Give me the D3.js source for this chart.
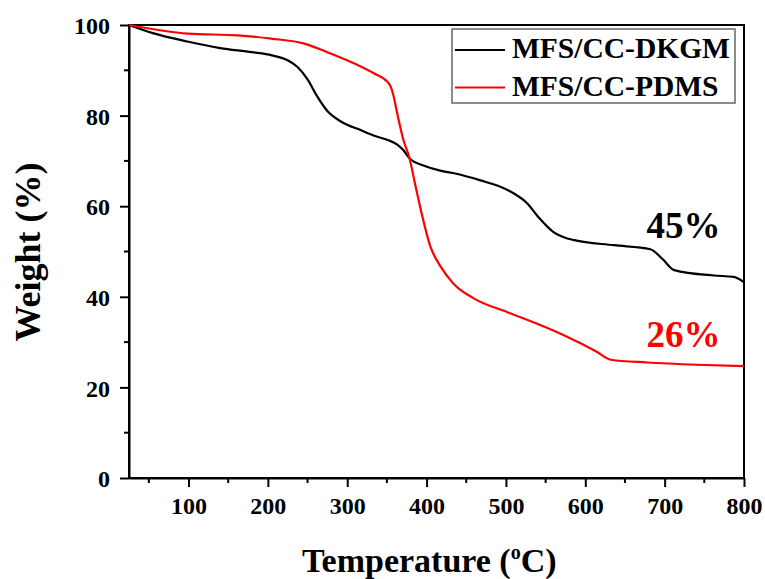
<!DOCTYPE html>
<html>
<head>
<meta charset="utf-8">
<script src="https://cdn.jsdelivr.net/npm/d3@7"></script>
<style>
  body { margin: 0; background: #fff; }
  text { font-family: "Liberation Serif", "Times New Roman", serif; font-weight: bold; }
</style>
</head>
<body>
<div id="chart"></div>
<script>
var width = 765,
    height = 579;

// TGA data
var dkgmTemp   = [25, 55, 100, 140, 180, 205, 225, 238, 250, 262, 275, 292, 317, 335, 351, 363, 370, 380, 396, 416, 439, 468, 490, 510, 527, 540, 560, 586, 636, 682, 697, 712, 762, 787, 800];
var dkgmWeight = [100, 98.2, 96.3, 94.9, 94.0, 93.3, 92.2, 90.6, 88.0, 84.3, 81.0, 78.7, 76.8, 75.5, 74.6, 73.6, 72.5, 70.3, 69.0, 67.9, 67.1, 65.7, 64.5, 62.8, 60.6, 57.8, 54.3, 52.5, 51.4, 50.5, 48.4, 45.9, 44.7, 44.4, 43.2];

var pdmsTemp   = [25, 99, 162, 204, 246, 275, 309, 334, 351, 355, 358, 363, 371, 378, 386, 393, 405, 418, 434, 460, 502, 544, 573, 615, 632, 678, 741, 800];
var pdmsWeight = [100, 98.1, 97.7, 97.0, 95.9, 94.0, 91.5, 89.3, 87.4, 86.3, 84.6, 80.5, 74.5, 70.9, 64.5, 59.0, 51.0, 46.6, 42.9, 39.6, 36.6, 33.7, 31.5, 27.8, 26.1, 25.5, 25.0, 24.7];

var seriesNames = ["MFS/CC-DKGM", "MFS/CC-PDMS"];
var seriesColors = ["#000000", "#ff0000"];
var residueLabels = ["45%", "26%"];
var residueAt = [53, 29];   // y position (weight %) of the residue labels

var xTicks = [100, 200, 300, 400, 500, 600, 700, 800];
var yTicks = [0, 20, 40, 60, 80, 100];

var margin = {top: 25, right: 21, bottom: 101, left: 129};
var w = width - margin.left - margin.right,
    h = height - margin.top - margin.bottom;

var svg = d3.select("#chart").append("svg")
    .attr("width", width)
    .attr("height", height);

var g = svg.append("g")
    .attr("transform", "translate(" + margin.left + "," + margin.top + ")");

var x = d3.scaleLinear().domain([25, 800]).range([0, w]);
var y = d3.scaleLinear().domain([0, 100]).range([h, 0]);

// minor ticks
var xMinor = d3.range(50, 800, 100);
var yMinor = d3.range(10, 100, 20);

g.selectAll(".xminor").data(xMinor).enter().append("line")
    .attr("x1", d => x(d)).attr("x2", d => x(d))
    .attr("y1", h).attr("y2", h + 5)
    .attr("stroke", "#000").attr("stroke-width", 2);

g.selectAll(".yminor").data(yMinor).enter().append("line")
    .attr("x1", -5).attr("x2", 0)
    .attr("y1", d => y(d)).attr("y2", d => y(d))
    .attr("stroke", "#000").attr("stroke-width", 2);

// axes
var xAxis = g.append("g")
    .attr("transform", "translate(0," + h + ")")
    .call(d3.axisBottom(x).tickValues(xTicks).tickSize(9).tickPadding(10).tickSizeOuter(0));

var yAxis = g.append("g")
    .call(d3.axisLeft(y).tickValues(yTicks).tickSize(9).tickPadding(10).tickSizeOuter(0));

[xAxis, yAxis].forEach(function(a) {
  a.selectAll("path, line").attr("stroke", "#000").attr("stroke-width", 2);
  a.selectAll("text")
    .attr("fill", "#000")
    .style("font-size", "24px")
    .style("font-family", "'Liberation Serif', serif")
    .style("font-weight", "bold");
});
yAxis.selectAll("text").attr("dy", "0.36em");

// frame
g.append("rect")
    .attr("width", w).attr("height", h)
    .attr("fill", "none")
    .attr("stroke", "#000").attr("stroke-width", 2);

// curves
var line = d3.line()
    .x(d => x(d[0]))
    .y(d => y(d[1]))
    .curve(d3.curveMonotoneX);

var series = [
  d3.zip(dkgmTemp, dkgmWeight),
  d3.zip(pdmsTemp, pdmsWeight)
];

g.selectAll(".curve").data(series).enter().append("path")
    .attr("class", "curve")
    .attr("d", line)
    .attr("fill", "none")
    .attr("stroke", (d, i) => seriesColors[i])
    .attr("stroke-width", 2.2);

// residue labels
g.selectAll(".residue").data(residueLabels).enter().append("text")
    .attr("x", x(677))
    .attr("y", (d, i) => y(residueAt[i]))
    .attr("fill", (d, i) => seriesColors[i])
    .style("font-size", "37px")
    .text(d => d);

// legend
var legend = svg.append("g").attr("transform", "translate(452,29)");
legend.append("rect")
    .attr("width", 283).attr("height", 74)
    .attr("fill", "#fff")
    .attr("stroke", "#666").attr("stroke-width", 1.5);

var item = legend.selectAll(".item").data(seriesNames).enter().append("g")
    .attr("transform", (d, i) => "translate(0," + (21 + i * 37.5) + ")");
item.append("line")
    .attr("x1", 3).attr("x2", 53)
    .attr("stroke", (d, i) => seriesColors[i])
    .attr("stroke-width", 2);
item.append("text")
    .attr("x", 60).attr("y", 8)
    .style("font-size", "29.5px")
    .attr("fill", "#000")
    .text(d => d);

// axis titles
var xTitle = svg.append("text")
    .attr("x", 302).attr("y", 572)
    .style("font-size", "34px");
xTitle.append("tspan").text("Temperature (");
xTitle.append("tspan").attr("dy", -13).style("font-size", "20px").text("o");
xTitle.append("tspan").attr("dy", 13).text("C)");

svg.append("text")
    .attr("transform", "translate(40,252) rotate(-90)")
    .attr("text-anchor", "middle")
    .style("font-size", "36px")
    .text("Weight (%)");
</script>
</body>
</html>
